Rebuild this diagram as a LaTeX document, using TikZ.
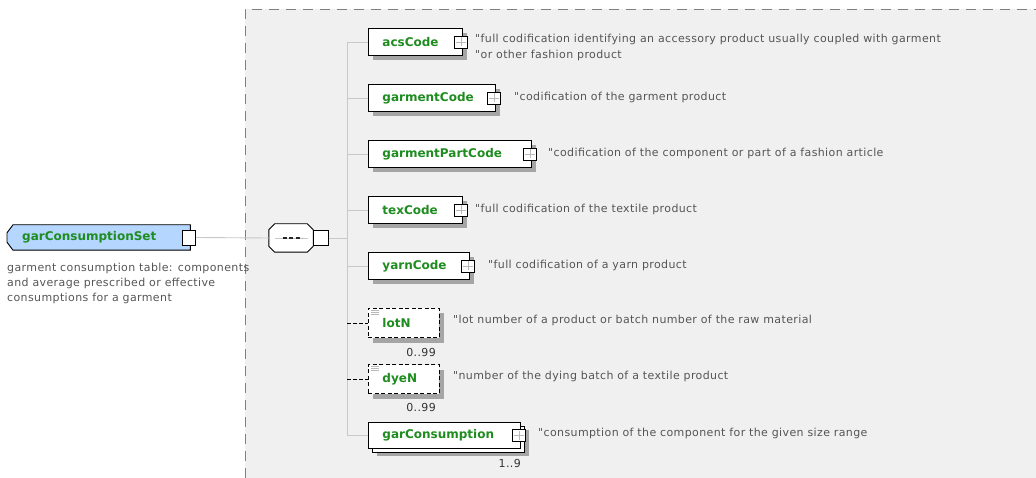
\documentclass[tikz,border=0pt]{standalone}
\usepackage{fontspec}
\setmainfont{DejaVu Sans}[Ligatures=TeXOff]
\newfontfamily\descff{DejaVu Sans}[Ligatures=TeXOff, LetterSpace=3.5]
\usetikzlibrary{shadows}
\pgfdeclarelayer{back}
\pgfdeclarelayer{bg}
\pgfsetlayers{back,bg,main}
\definecolor{areagray}{RGB}{240,240,240}
\definecolor{dashgray}{RGB}{128,128,128}
\definecolor{treegray}{RGB}{200,200,200}
\definecolor{shadowgray}{RGB}{165,165,165}
\definecolor{elemgreen}{RGB}{30,140,30}
\definecolor{setblue}{RGB}{180,214,255}
\definecolor{desctext}{RGB}{85,85,85}
\definecolor{plusgray}{RGB}{185,185,185}
\newcommand{\elemfont}{\fontsize{12}{14}\selectfont\bfseries}
\newcommand{\descfont}{\descff\fontsize{11}{16}\selectfont}
\begin{document}
\begin{tikzpicture}[x=1pt,y=-1pt,
  elem/.style={draw=black, fill=white, line width=0.9pt, minimum height=27pt,
    inner xsep=14pt, inner ysep=0pt, align=left, anchor=west, font=\elemfont,
    text=elemgreen,
    general shadow={fill=shadowgray, shadow xshift=5pt, shadow yshift=-5pt}},
  optelem/.style={elem, dash pattern=on 4pt off 2.5pt},
  multelem/.style={draw=black, fill=white, line width=0.9pt, minimum height=27pt,
    inner xsep=14pt, inner ysep=0pt, align=left, anchor=west, font=\elemfont,
    text=elemgreen,
    general shadow={fill=shadowgray, shadow xshift=9pt, shadow yshift=-8pt},
    general shadow={fill=white, draw=black, line width=0.9pt, shadow xshift=4pt, shadow yshift=-4pt}},
  plussq/.style={draw=black, fill=white, line width=0.9pt, minimum width=13pt,
    minimum height=12pt, inner sep=0pt,
    path picture={\draw[plusgray, line width=0.8pt]
      ([yshift=-1.5pt]path picture bounding box.north) -- ([yshift=1.5pt]path picture bounding box.south)
      ([xshift=1.5pt]path picture bounding box.west) -- ([xshift=-1.5pt]path picture bounding box.east);}},
  plainsq/.style={draw=black, fill=white, line width=0.9pt, inner sep=0pt},
  desc/.style={anchor=west, inner sep=0pt, align=left, font=\descfont, text=desctext},
  mult/.style={anchor=east, inner sep=0pt, font=\descff\fontsize{11}{12}\selectfont, text=black!80},
  tree/.style={draw=treegray, line width=0.9pt},
  optline/.style={draw=black, line width=0.9pt, dash pattern=on 3.5pt off 2.5pt}
]
\useasboundingbox (0,0) rectangle (1036,478);

% grey area with dashed border
\begin{pgfonlayer}{back}
\fill[areagray] (245,9) rectangle (1036,478);
\draw[dashgray, line width=0.9pt, dash pattern=on 10pt off 7pt] (245,478) -- (245,9) -- (1036,9);
\end{pgfonlayer}

% root element
\node[anchor=west, minimum width=183pt, minimum height=25pt, inner xsep=15pt, inner ysep=0pt,
  text width=153pt, align=left, font=\elemfont, text=elemgreen] (set) at (7,237.5) {garConsumptionSet};
\begin{pgfonlayer}{bg}
\fill[shadowgray, shift={(5pt,-5pt)}]
  ([xshift=6pt]set.north west) -- (set.north east) -- (set.south east) -- ([xshift=6pt]set.south west)
  -- ([yshift=8pt]set.south west) -- ([yshift=-8pt]set.north west) -- cycle;
\draw[fill=setblue, line width=0.9pt]
  ([xshift=6pt]set.north west) -- (set.north east) -- (set.south east) -- ([xshift=6pt]set.south west)
  -- ([yshift=8pt]set.south west) -- ([yshift=-8pt]set.north west) -- cycle;
\end{pgfonlayer}
\node[plainsq, minimum width=13pt, minimum height=15pt] (setsq) at ([xshift=-1.5pt]set.east) {};
\node[desc, font=\descff\fontsize{11}{15}\selectfont] (setd) at (7,283) {garment consumption table: components\\and average prescribed or effective\\consumptions for a garment};

% sequence compositor
\node[minimum width=44pt, minimum height=28pt, inner sep=0pt] (seq) at (291,238) {};
\begin{pgfonlayer}{bg}
\fill[shadowgray, shift={(5pt,-5pt)}]
  ([xshift=6pt]seq.north west) -- ([xshift=-6pt]seq.north east) -- ([yshift=-6pt]seq.north east)
  -- ([yshift=6pt]seq.south east) -- ([xshift=-6pt]seq.south east) -- ([xshift=6pt]seq.south west)
  -- ([yshift=6pt]seq.south west) -- ([yshift=-6pt]seq.north west) -- cycle;
\draw[fill=white, line width=0.9pt]
  ([xshift=6pt]seq.north west) -- ([xshift=-6pt]seq.north east) -- ([yshift=-6pt]seq.north east)
  -- ([yshift=6pt]seq.south east) -- ([xshift=-6pt]seq.south east) -- ([xshift=6pt]seq.south west)
  -- ([yshift=6pt]seq.south west) -- ([yshift=-6pt]seq.north west) -- cycle;
\end{pgfonlayer}
\draw[treegray, line width=0.9pt] ([xshift=6pt]seq.west) -- ([xshift=-5pt]seq.east);
\draw[black!85, line width=1.6pt, dash pattern=on 4pt off 2.5pt] ([xshift=-8.5pt]seq.center) -- ([xshift=11pt]seq.center);
\node[plainsq, minimum width=15pt, minimum height=15pt, anchor=west] (seqsq) at (seq.east) {};

% children
\node[elem, text width=66pt] (acs) at (368,42) {acsCode};
\node[elem, text width=99pt] (gc) at (368,98) {garmentCode};
\node[elem, text width=135pt] (gpc) at (368,154) {garmentPartCode};
\node[elem, text width=66pt] (tex) at (368,210) {texCode};
\node[elem, text width=73pt] (yarn) at (368,266) {yarnCode};
\node[optelem, text width=43pt, minimum height=29pt] (lot) at (368,323) {lotN};
\node[optelem, text width=43pt, minimum height=29pt] (dye) at (368,379) {dyeN};
\node[multelem, text width=124pt, minimum height=26pt] (gcons) at (368,435) {garConsumption};

\foreach \n in {acs,gc,gpc,tex,yarn,gcons}{
  \node[plussq] (\n sq) at ([xshift=-2pt]\n.east) {};
}
\foreach \n in {lot,dye}{
  \draw[plusgray, line width=0.8pt]
    ([shift={(3pt,-2.5pt)}]\n.north west) -- ++(8,0)
    ([shift={(3pt,-4.5pt)}]\n.north west) -- ++(8,0)
    ([shift={(3pt,-6.5pt)}]\n.north west) -- ++(8,0);
}

% multiplicities
\node[mult] (lotm) at (436,352) {0..99};
\node[mult] (dyem) at (436,407) {0..99};
\node[mult] (gconsm) at (521,463) {1..9};

% connectors
\coordinate (trunk) at (347,238);
\draw[tree] (setsq.east) -- (seq.west);
\draw[tree] (seqsq.east) -- (trunk);
\draw[tree] (trunk |- acs.west) -- (trunk |- gcons.west);
\foreach \n in {acs,gc,gpc,tex,yarn,gcons}{
  \draw[tree] (trunk |- \n.west) -- (\n.west);
}
\draw[optline] (trunk |- lot.west) -- (lot.west);
\draw[optline] (trunk |- dye.west) -- (dye.west);

% descriptions
\node[desc] (acsd) at (475,47) {"full codification identifying an accessory product usually coupled with garment\\"or other fashion product};
\node[desc] (gcd) at (514,97) {"codification of the garment product};
\node[desc] (gpcd) at (548,153) {"codification of the component or part of a fashion article};
\node[desc] (texd) at (475,209) {"full codification of the textile product};
\node[desc] (yarnd) at (488,265) {"full codification of a yarn product};
\node[desc] (lotd) at (453,320) {"lot number of a product or batch number of the raw material};
\node[desc] (dyed) at (453,376) {"number of the dying batch of a textile product};
\node[desc] (gconsd) at (538,433) {"consumption of the component for the given size range};
\end{tikzpicture}
\end{document}
